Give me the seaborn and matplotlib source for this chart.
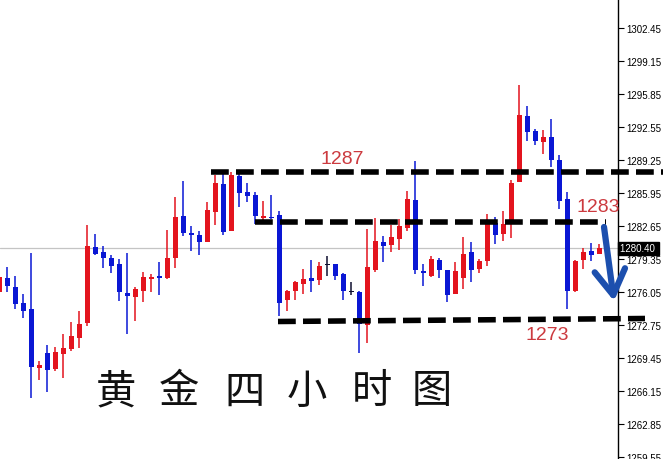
import pandas as pd
import numpy as np
import seaborn as sns
import matplotlib.pyplot as plt

# Gold 4H candles (price values)
opens = [1276.05, 1277.45, 1276.55, 1274.95, 1274.35, 1268.45, 1269.95, 1268.35, 1269.85, 1270.35,
         1271.45, 1272.95, 1280.55, 1280.05, 1279.45, 1278.85, 1275.95, 1275.55, 1276.15, 1277.35,
         1277.65, 1277.45, 1279.45, 1283.65, 1281.95, 1281.75, 1281.05, 1284.05, 1286.85, 1282.15,
         1287.65, 1286.05, 1285.75, 1283.45, 1283.55, 1283.75, 1275.25, 1276.15, 1276.85, 1277.45,
         1277.25, 1278.75, 1278.85, 1277.85, 1276.05, 1276.05, 1272.75, 1278.25, 1281.05, 1280.75,
         1281.35, 1282.45, 1285.25, 1278.15, 1277.65, 1279.25, 1278.25, 1275.85, 1277.45, 1280.05,
         1278.35, 1279.15, 1282.95, 1281.85, 1282.85, 1287.05, 1293.65, 1292.15, 1291.05, 1291.55,
         1289.25, 1285.35, 1276.15, 1279.25, 1280.15, 1279.85]
highs = [1278.35, 1278.55, 1277.65, 1275.85, 1279.95, 1269.15, 1270.75, 1270.55, 1271.85, 1273.05,
         1274.15, 1282.75, 1281.85, 1280.65, 1279.75, 1279.35, 1279.95, 1276.55, 1278.05, 1277.85,
         1279.05, 1282.25, 1285.55, 1287.15, 1282.65, 1282.15, 1285.05, 1287.75, 1287.85, 1288.05,
         1288.25, 1286.95, 1286.05, 1285.15, 1285.75, 1284.15, 1276.25, 1277.15, 1278.35, 1279.25,
         1279.05, 1279.65, 1278.85, 1277.95, 1277.05, 1276.15, 1282.35, 1283.45, 1281.65, 1282.75,
         1283.35, 1286.15, 1289.15, 1278.85, 1279.65, 1279.45, 1278.25, 1279.05, 1281.55, 1281.05,
         1279.35, 1283.85, 1283.55, 1284.15, 1287.25, 1296.75, 1294.65, 1292.35, 1292.25, 1293.35,
         1289.75, 1286.05, 1279.25, 1280.45, 1280.95, 1280.85]
lows = [1275.55, 1276.05, 1274.35, 1273.45, 1265.45, 1267.25, 1266.05, 1268.15, 1267.45, 1270.15,
        1270.45, 1272.65, 1279.75, 1278.45, 1277.95, 1275.15, 1271.85, 1273.15, 1275.05, 1276.05,
        1275.75, 1277.35, 1278.45, 1281.65, 1280.15, 1279.75, 1281.05, 1282.75, 1281.75, 1282.15,
        1284.55, 1285.05, 1282.85, 1282.85, 1283.35, 1273.65, 1274.15, 1275.25, 1275.85, 1276.05,
        1276.75, 1277.65, 1277.25, 1275.25, 1275.75, 1269.95, 1270.95, 1278.05, 1279.05, 1280.05,
        1280.25, 1282.15, 1277.85, 1276.65, 1277.55, 1277.45, 1275.05, 1275.85, 1276.35, 1277.05,
        1277.95, 1278.65, 1280.85, 1281.15, 1281.45, 1287.05, 1291.15, 1290.75, 1289.85, 1288.55,
        1284.35, 1274.35, 1276.05, 1278.35, 1279.15, 1279.85]
closes = [1277.55, 1276.65, 1274.85, 1274.15, 1268.55, 1268.75, 1268.25, 1270.05, 1270.45, 1271.65,
          1272.85, 1280.65, 1279.85, 1279.45, 1278.65, 1276.05, 1275.65, 1276.35, 1277.55, 1277.55,
          1277.45, 1279.45, 1283.55, 1281.95, 1281.75, 1281.05, 1284.25, 1286.95, 1282.05, 1287.75,
          1285.95, 1285.65, 1283.65, 1283.65, 1283.45, 1274.95, 1276.15, 1277.05, 1277.35, 1277.15,
          1278.65, 1278.75, 1277.65, 1276.15, 1276.05, 1272.85, 1278.55, 1281.15, 1280.65, 1281.55,
          1282.65, 1285.35, 1278.25, 1277.95, 1279.35, 1278.25, 1275.75, 1278.15, 1279.85, 1278.25,
          1279.15, 1282.85, 1281.75, 1282.85, 1286.95, 1293.75, 1292.05, 1291.15, 1291.55, 1289.25,
          1285.15, 1276.15, 1279.15, 1280.05, 1279.75, 1280.40]

levels = [1288.0, 1283.0, 1273.1]
level_labels = ["1287", "1283", "1273"]
last_price = 1280.40
yticks = [1259.55 + 3.3 * i for i in range(14)]
title = "黄金四小时图"

df = pd.DataFrame({"open": opens, "high": highs, "low": lows, "close": closes})
df["idx"] = np.arange(len(df)) - 1

UP = "#e3141e"
DOWN = "#0a17d4"
DOJI = "#101030"
df["color"] = np.where(df.close > df.open, UP, np.where(df.close < df.open, DOWN, DOJI))

sns.set_theme(style="white")
plt.rcParams["font.family"] = ["Liberation Sans", "DejaVu Sans"]

fig = plt.figure(figsize=(6.63, 4.60), dpi=100)
ax = fig.add_axes([0, 0, 618 / 663, 1])


# pixel -> data helpers for annotations
def px(x):
    return (x - 7.3) / 8


def py(y):
    return 1305.35 - y / 10


# current price line
ax.axhline(last_price, color="#c4c4c4", lw=0.9, zorder=1)

# wicks and bodies
ax.vlines(df.idx, df.low, df.high, colors=df.color, lw=1.1, zorder=2)
body_lo = np.minimum(df.open, df.close)
body_h = np.maximum(np.abs(df.close - df.open), 0.12)
ax.bar(df.idx, body_h, bottom=body_lo, width=0.62, color=df.color, linewidth=0, zorder=3)

# hand-drawn support / resistance lines
dash = dict(color="black", lw=4, linestyle=(0, (3.2, 1.3)), dash_capstyle="butt",
            clip_on=False, zorder=4)
ax.plot([px(211), px(663)], [levels[0], levels[0]], **dash)
ax.plot([px(255), px(606)], [levels[1], levels[1]], **dash)
ax.plot([px(278), px(645)], [levels[2], levels[2] + 0.3], **dash)

txt_col = "#cc3a3f"
ax.text(px(342), py(160), level_labels[0], color=txt_col, fontsize=14,
        ha="center", va="center")
ax.text(px(598), py(208), level_labels[1], color=txt_col, fontsize=14,
        ha="center", va="center", clip_on=False)
ax.text(px(547), py(336), level_labels[2], color=txt_col, fontsize=14,
        ha="center", va="center")

# blue arrow
ax.annotate("", xy=(px(614), py(302)), xytext=(px(604), py(228)),
            arrowprops=dict(arrowstyle="->,head_length=0.9,head_width=0.55", color="#1c4fae",
                            lw=4.5, mutation_scale=20, shrinkA=0, shrinkB=0,
                            capstyle="round", joinstyle="round"),
            annotation_clip=False, zorder=5)

# handwritten title
for ch, cx in zip(title, [116, 179, 245, 307, 372, 432]):
    ax.text(px(cx), py(392), ch, fontsize=29, family=["Noto Sans CJK SC", "DejaVu Sans"],
            fontweight="light", ha="center", va="center", color="#111111")

# axes
ax.set_xlim(px(0), px(618))
ax.set_ylim(py(460), py(0))
ax.set_xticks([])
ax.yaxis.tick_right()
ax.set_yticks(yticks)
ax.set_yticklabels([f"{t:.2f}" for t in yticks])
ax.tick_params(axis="y", direction="out", length=4, width=0.8, colors="black",
               labelsize=7, pad=2, right=True)
for s in ["top", "left", "bottom"]:
    ax.spines[s].set_visible(False)
ax.spines["right"].set_color("black")
ax.spines["right"].set_linewidth(1)

# last price tag
ax.text(1.003, (last_price - py(460)) / (py(0) - py(460)), f"{last_price:.2f} ",
        transform=ax.transAxes, fontsize=7, color="white", va="center", ha="left",
        bbox=dict(boxstyle="square,pad=0.2", fc="black", ec="black"), clip_on=False)

fig.savefig("out.png", dpi=100)
